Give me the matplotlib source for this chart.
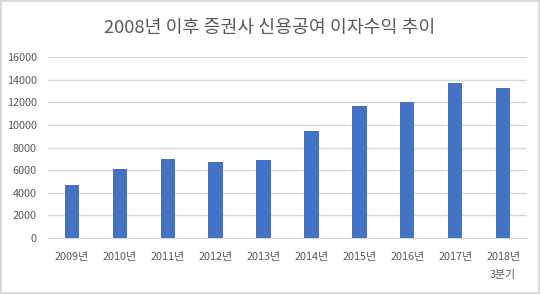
import numpy as np
import matplotlib as mpl
mpl.use('Agg')
import matplotlib.pyplot as plt

plt.rcParams['font.family'] = ['Noto Sans CJK KR', 'DejaVu Sans']

years = ["2009년", "2010년", "2011년", "2012년", "2013년", "2014년",
         "2015년", "2016년", "2017년", "2018년\n3분기"]
income = [4660, 6060, 6950, 6690, 6870, 9480, 11690, 11980, 13730, 13290]
yticks = [0, 2000, 4000, 6000, 8000, 10000, 12000, 14000, 16000]

fig = plt.figure(figsize=(5.4, 2.94), dpi=100)
fig.patch.set_edgecolor('#D9D9D9')
fig.patch.set_linewidth(1.5)
ax = fig.add_axes([48/540, 1-238/294, 479/540, 181/294])

x = np.arange(len(years))
ax.bar(x, income, width=0.3, color='#4472C4', zorder=3)

ax.set_xlim(-0.5, len(years) - 0.5)
ax.set_ylim(0, 16000)
ax.set_yticks(yticks)
ax.set_yticklabels([str(v) for v in yticks])
ax.set_xticks(x)
ax.set_xticklabels(years, linespacing=2.05)
ax.grid(axis='y', color='#D9D9D9', lw=1, zorder=0)
for s in ['top', 'right', 'left']:
    ax.spines[s].set_visible(False)
ax.spines['bottom'].set_color('#D9D9D9')
ax.tick_params(axis='both', length=0, labelsize=7.8, colors='#595959')
ax.tick_params(axis='x', pad=10)
ax.tick_params(axis='y', pad=8)

fig.text(0.5, 1-28/294, "2008년 이후 증권사 신용공여 이자수익 추이",
         ha='center', va='center', fontsize=13.2, color='#595959')

fig.savefig("out.png", dpi=100, edgecolor=fig.get_edgecolor())
